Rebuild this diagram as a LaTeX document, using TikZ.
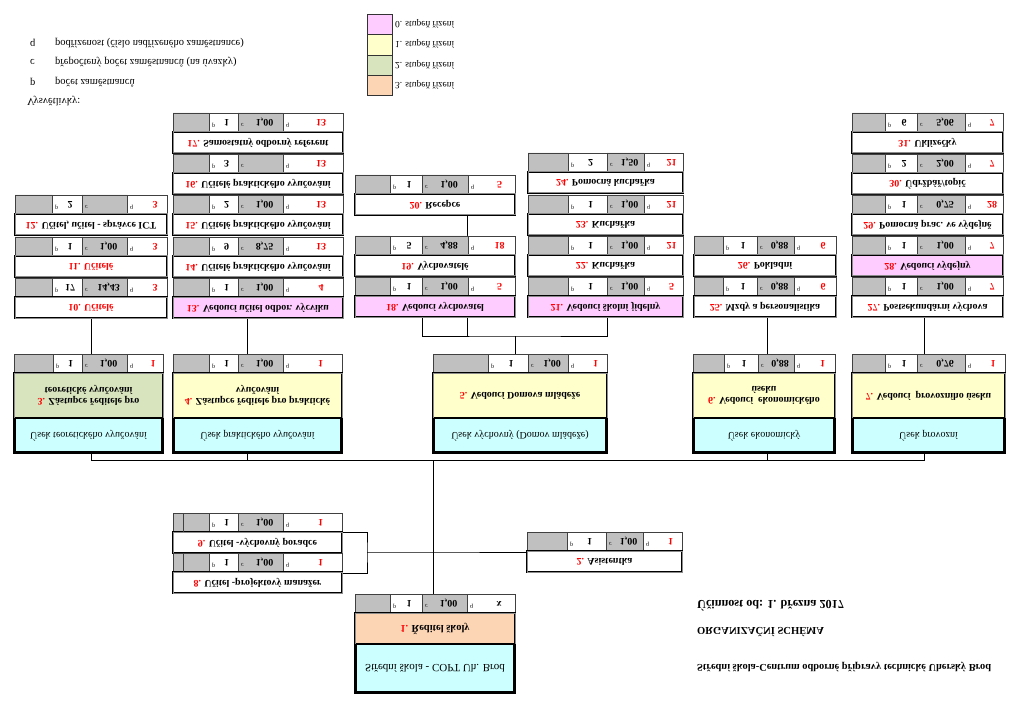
\documentclass[tikz,border=0pt]{standalone}
\usepackage{fontspec}
\setmainfont{Liberation Serif}
\definecolor{cgray}{HTML}{C0C0C0}
\definecolor{cpink}{HTML}{FFCCFF}
\definecolor{cyel}{HTML}{FFFFCC}
\definecolor{cgreen}{HTML}{D7E4BD}
\definecolor{corange}{HTML}{FCD5B5}
\definecolor{ccyan}{HTML}{CCFFFF}
\definecolor{cred}{HTML}{FF0000}
\tikzset{
 cellline/.style={draw=black!75, line width=0.6pt},
 conn/.style={draw=black, line width=0.7pt},
 lt/.style={font=\fontsize{6}{6}\selectfont, inner sep=0pt, anchor=west},
 vl/.style={font=\bfseries\fontsize{10}{10}\selectfont, inner sep=0pt},
 qv/.style={vl, text=cred},
 namebox/.style={draw=black, line width=0.5pt, double=black!45, double distance=1pt, inner sep=0pt, outer sep=0pt, font=\bfseries\fontsize{10}{11}\selectfont, align=center},
 l2font/.style={font=\bfseries\fontsize{10}{11.5}\selectfont},
 deptbox/.style={draw=black, line width=0.6pt, fill=ccyan, inner sep=0pt, outer sep=0pt, font=\fontsize{10}{11}\selectfont, align=center},
 legtext/.style={font=\fontsize{10.5}{11}\selectfont, inner sep=0pt, anchor=west},
 legsmall/.style={font=\fontsize{9.5}{10}\selectfont, inner sep=0pt, anchor=west},
 legbox/.style={draw=black!80, line width=0.6pt},
 headtext/.style={font=\bfseries\fontsize{10.4}{11}\selectfont, inner sep=0pt, anchor=west},
}
\newcommand\cols[5]{\def\xa{#1}\def\xb{#2}\def\xc{#3}\def\xd{#4}\def\xe{#5}}
\newcommand\drow[5]{%
 \path[fill=cgray] (\xa,#2) rectangle (\xb,#2+19) (\xc,#2) rectangle (\xd,#2+19);
 \path[fill=white] (\xb,#2) rectangle (\xc,#2+19) (\xd,#2) rectangle (\xe,#2+19);
 \draw[cellline] (\xa,#2) rectangle (\xe,#2+19) (\xb,#2) -- (\xb,#2+19) (\xc,#2) -- (\xc,#2+19) (\xd,#2) -- (\xd,#2+19);
 \node[lt] (#1pl) at (\xb+3,#2+12) {p};
 \node[vl] (#1pv) at ({(\xb+\xc)/2+3},#2+9.5) {#3};
 \node[lt] (#1cl) at (\xc+3,#2+12) {c};
 \node[vl] (#1cv) at ({(\xc+\xd)/2+4},#2+9.5) {#4};
 \node[lt] (#1ql) at (\xd+3,#2+12) {q};
 \node[qv] (#1qv) at ({(\xd+10+\xe)/2+3},#2+9.5) {#5};
}
\newcommand\nrow[4]{%
 \node[namebox, fill=#3, minimum width={(\xe-\xa)*1pt}, minimum height=21pt] (e#1) at ({(\xa+\xe)/2},#2+29.5) {{\color{cred}#1.} #4};
}
\newcommand\blk[7]{\drow{d#1}{#2}{#5}{#6}{#7}\nrow{#1}{#2}{#3}{#4}}
\newcommand\lvtwo[8]{%
 \drow{d#1}{354}{#6}{#7}{#8}
 \node[namebox, l2font, fill=#3, minimum width={(\xe-\xa)*1pt}, minimum height=45pt] (e#1) at ({(\xa+\xe)/2},395.5) {{\color{cred}#1.} #4};
 \node[deptbox, minimum width={(\xe-\xa)*1pt}, minimum height=35pt] (u#1) at ({(\xa+\xe)/2},435.5) {#5};
 \draw[line width=3pt] (\xa+0.5,418) -- (\xa+0.5,452) -- (\xe-0.5,452) -- (\xe-0.5,418);
}
\begin{document}
\begin{tikzpicture}[x=1pt,y=1pt,yscale=-1,every node/.append style={transform shape}]
\useasboundingbox (0,0) rectangle (1024,708);
\fill[white] (0,0) rectangle (1024,708);

% legend
\node[legtext] (lq) at (30,43) {q};
\node[legtext] (lqt) at (55,43) {podřízenost (číslo nadřízeného zaměstnance)};
\node[legtext] (lc) at (30,62) {c};
\node[legtext] (lct) at (55,62) {přepočtený počet zaměstnanců (na úvazky)};
\node[legtext] (lp) at (30,82) {p};
\node[legtext] (lpt) at (55,82) {počet zaměstnanců};
\node[legtext] (lv) at (27,101) {Vysvětlivky:};

\draw[legbox, fill=cpink] (367,14) rectangle (392,34);
\draw[legbox, fill=cyel] (367,34) rectangle (392,55);
\draw[legbox, fill=cgreen] (367,55) rectangle (392,75);
\draw[legbox, fill=corange] (367,75) rectangle (392,95);
\node[legsmall] (s0) at (395,24) {0. stupeň řízení};
\node[legsmall] (s1) at (395,44) {1. stupeň řízení};
\node[legsmall] (s2) at (395,65) {2. stupeň řízení};
\node[legsmall] (s3) at (395,85) {3. stupeň řízení};

% connectors (drawn first)
\coordinate (a10) at (91,317); \coordinate (b3) at (91,354);
\coordinate (a13) at (247,317); \coordinate (b4) at (247,354);
\coordinate (a18) at (422,317); \coordinate (a19) at (467,317);
\coordinate (a21) at (607,317); \coordinate (m5) at (515,336); \coordinate (b5) at (515,354);
\coordinate (a20) at (467,215); \coordinate (a19t) at (467,236);
\coordinate (a25) at (767,317); \coordinate (b6) at (767,354);
\coordinate (a27) at (924,317); \coordinate (b7) at (924,354);
\coordinate (u3b) at (91,453); \coordinate (u4b) at (247,453);
\coordinate (u6b) at (767,453); \coordinate (u7b) at (924,453);
\coordinate (bus3) at (91,460); \coordinate (bus4) at (247,460);
\coordinate (bus6) at (767,460); \coordinate (bus7) at (924,460);
\coordinate (busc) at (433,460); \coordinate (top1) at (433,594);
\coordinate (j9) at (342,532); \coordinate (j8) at (342,573);
\coordinate (jm) at (367,552); \coordinate (jc) at (433,552); \coordinate (j2) at (527,552);

\draw[conn] (a10) -- (b3);
\draw[conn] (a13) -- (b4);
\draw[conn] (a18) |- (m5) -| (a21);
\draw[conn] (a19) -- (a19 |- m5);
\draw[conn] (m5) -- (b5);
\draw[conn] (a20) -- (a19t);
\draw[conn] (a25) -- (b6);
\draw[conn] (a27) -- (b7);
\draw[conn] (u3b) -- (bus3) -- (bus7) -- (u7b);
\draw[conn] (u4b) -- (bus4);
\draw[conn] (u6b) -- (bus6);
\draw[conn] (busc) -- (top1);
\draw[conn] (j9) -| (jm) |- (j8);
\draw[conn] (jm) -- (jc) -- (j2);

% column 1
\cols{15}{52}{82}{127}{167}
\blk{12}{195}{white}{Učitel, učitel - správce ICT}{2}{}{3}
\blk{11}{237}{white}{\textcolor{cred}{Učitelé}}{1}{1,00}{3}
\blk{10}{278}{white}{\textcolor{cred}{Učitelé}}{17}{14,43}{3}

% column 2
\cols{173}{209}{238}{283}{343}
\blk{17}{113}{white}{Samostatný odborný referent}{1}{1,00}{13}
\blk{16}{154}{white}{Učitelé praktického vyučování}{3}{}{13}
\blk{15}{195}{white}{Učitelé praktického vyučování}{2}{1,00}{13}
\blk{14}{237}{white}{Učitelé praktického vyučování}{9}{8,75}{13}
\blk{13}{278}{cpink}{Vedoucí učitel odbor. výcviku}{1}{1,00}{4}

% column 3
\cols{355}{390}{422}{468}{515}
\blk{20}{175}{white}{Recepce}{1}{1,00}{5}
\blk{19}{236}{white}{Vychovatelé}{5}{4,88}{18}
\blk{18}{277}{cpink}{Vedoucí vychovatel}{1}{1,00}{5}

% column 4
\cols{528}{568}{607}{644}{683}
\blk{24}{153}{white}{Pomocná kuchařka}{2}{1,50}{21}
\blk{23}{195}{white}{Kuchařka}{1}{1,00}{21}
\blk{22}{236}{white}{Kuchařka}{1}{1,00}{21}
\blk{21}{277}{cpink}{Vedoucí školní jídelny}{1}{1,00}{5}

% column 5
\cols{694}{723}{757}{794}{836}
\blk{26}{236}{white}{Pokladní}{1}{0,88}{6}
\blk{25}{277}{white}{Mzdy a personalistika}{1}{0,88}{6}

% column 6
\cols{852}{885}{917}{965}{1003}
\blk{31}{113}{white}{Uklízečky}{6}{5,06}{7}
\blk{30}{154}{white}{Údržbář/topič}{2}{2,00}{7}
\blk{29}{195}{white}{Pomocná prac. ve výdejně}{1}{0,75}{28}
\blk{28}{236}{cpink}{Vedoucí výdejny}{1}{1,00}{7}
\blk{27}{277}{white}{Postsekundární výchova}{1}{1,00}{7}

% level 2
\cols{14}{53}{82}{127}{163}
\lvtwo{3}{354}{cgreen}{Zástupce ředitele pro\\teoretické vyučování}{Úsek teoretického vyučování}{1}{1,00}{1}
\cols{173}{209}{238}{283}{342}
\lvtwo{4}{354}{cyel}{Zástupce ředitele pro praktické\\vyučování}{Úsek praktického vyučování}{1}{1,00}{1}
\cols{433}{488}{528}{568}{607}
\lvtwo{5}{354}{cyel}{Vedoucí Domova mládeže}{Úsek výchovný (Domov mládeže)}{1}{1,00}{1}
\cols{693}{724}{758}{794}{835}
\lvtwo{6}{354}{cyel}{Vedoucí\ \ ekonomického\\úseku}{Úsek ekonomický}{1}{0,88}{1}
\cols{852}{885}{917}{965}{1005}
\lvtwo{7}{354}{cyel}{Vedoucí\ \ provozního úseku}{Úsek provozní}{1}{0,76}{1}

% staff 8, 9, 2
\cols{173}{209}{238}{283}{342}
\blk{9}{513}{white}{Učitel -výchovný poradce}{1}{1,00}{1}
\blk{8}{553}{white}{Učitel -projektový manažer}{1}{1,00}{1}
\draw[cellline] (183,513) -- (183,532) (183,553) -- (183,572);
\cols{527}{567}{606}{643}{682}
\blk{2}{532}{white}{Asistentka}{1}{1,00}{1}

% director
\cols{355}{390}{422}{467}{515}
\drow{d1}{594}{1}{1,00}{\textcolor{black}{x}}
\node[namebox, fill=corange, minimum width=160pt, minimum height=31pt, font=\bfseries\fontsize{10.5}{11}\selectfont] (e1) at (435,628.5) {{\color{cred}1.} Ředitel školy};
\node[deptbox, minimum width=160pt, minimum height=49pt, font=\fontsize{11}{12}\selectfont] (u1) at (435,668.5) {Střední škola - COPT Uh. Brod};
\draw[line width=3pt] (355.5,644) -- (355.5,692) -- (514.5,692) -- (514.5,644);

% header
\node[headtext, font=\bfseries\fontsize{12.2}{13}\selectfont] (h1) at (697,606) {Účinnost od: 1. března 2017};
\node[headtext, font=\bfseries\fontsize{10.6}{11}\selectfont] (h2) at (697,632) {ORGANIZAČNÍ SCHÉMA};
\node[headtext] (h3) at (697,667) {Střední škola-Centrum odborné přípravy technické Uherský Brod};
\end{tikzpicture}
\end{document}
